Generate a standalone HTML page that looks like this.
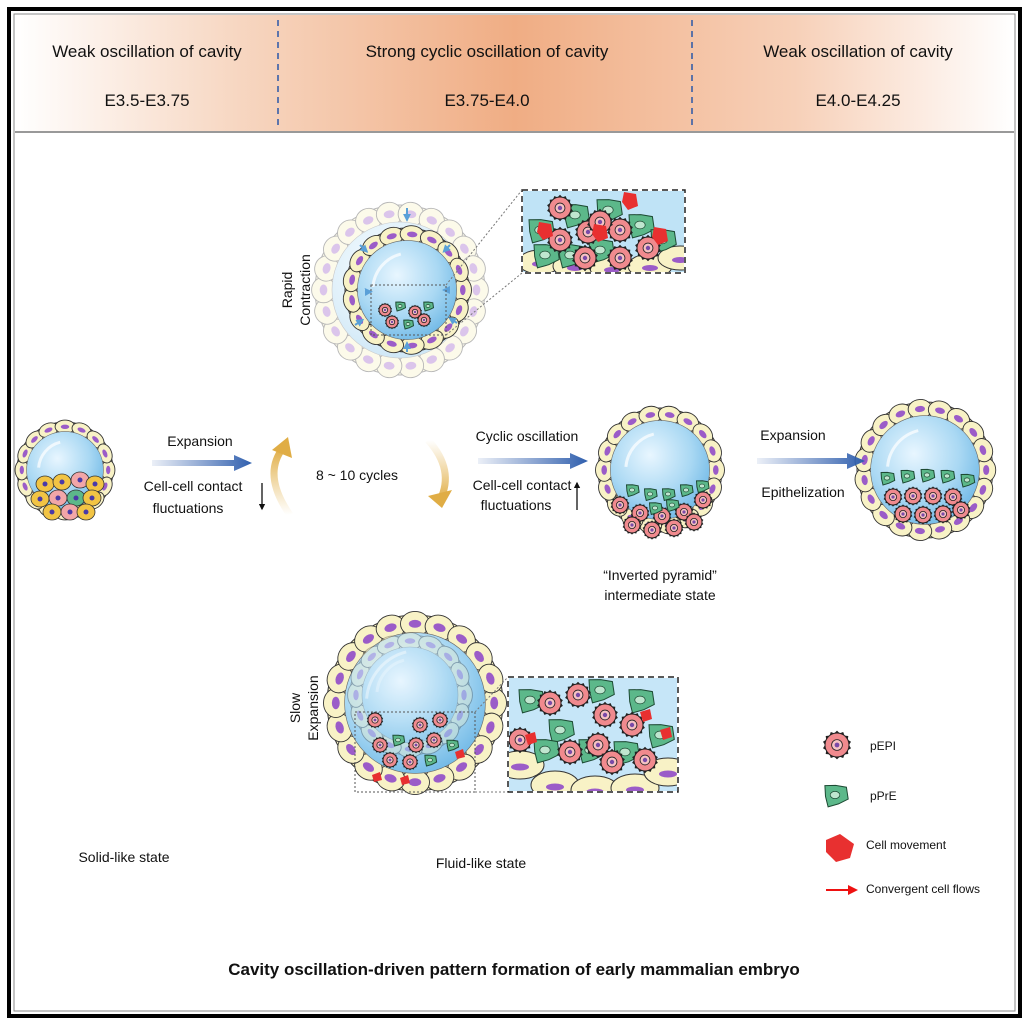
<!DOCTYPE html>
<html><head><meta charset="utf-8"><style>
html,body{margin:0;padding:0;background:#fff}
svg{display:block}
text{font-family:"Liberation Sans",Arial,sans-serif;fill:#111}
</style></head><body>
<svg id="s" width="1029" height="1024" viewBox="0 0 1029 1024" xmlns="http://www.w3.org/2000/svg">
<defs>
<linearGradient id="hdr" x1="0" x2="1" y1="0" y2="0">
<stop offset="0" stop-color="#fff"/><stop offset="0.22" stop-color="#f7d7c2"/>
<stop offset="0.5" stop-color="#f0ad84"/><stop offset="0.78" stop-color="#f7d0b8"/><stop offset="1" stop-color="#fff"/>
</linearGradient>
<radialGradient id="cav" cx="0.4" cy="0.35" r="0.7">
<stop offset="0" stop-color="#e8f6ff"/><stop offset="0.6" stop-color="#a9d8f3"/><stop offset="1" stop-color="#6fb8e6"/>
</radialGradient>
<linearGradient id="arr" x1="0" x2="1"><stop offset="0" stop-color="#3a64b0" stop-opacity="0.1"/><stop offset="1" stop-color="#2f5fae"/></linearGradient>
<linearGradient id="gold1" x1="0" y1="1" x2="0" y2="0"><stop offset="0" stop-color="#e5b85a" stop-opacity="0"/><stop offset="1" stop-color="#e0ad45"/></linearGradient>
<linearGradient id="gold2" x1="0" y1="0" x2="0" y2="1"><stop offset="0" stop-color="#e5b85a" stop-opacity="0"/><stop offset="1" stop-color="#e0ad45"/></linearGradient>
<clipPath id="c1"><rect x="523" y="191" width="161" height="81"/></clipPath>
<clipPath id="c2"><rect x="509" y="678" width="168" height="113"/></clipPath>
<marker id="ah" viewBox="0 0 10 10" refX="8" refY="5" markerWidth="5" markerHeight="5" orient="auto"><path d="M0,0L10,5L0,10z" fill="#111"/></marker>
<marker id="ahr" viewBox="0 0 10 10" refX="8" refY="5" markerWidth="5" markerHeight="5" orient="auto"><path d="M0,0L10,5L0,10z" fill="#e11"/></marker>
<marker id="ahb" viewBox="0 0 10 10" refX="8" refY="5" markerWidth="4" markerHeight="4" orient="auto"><path d="M0,0L10,5L0,10z" fill="#5aa0d8"/></marker>
</defs>
<rect x="0" y="0" width="1029" height="1024" fill="#fff"/>
<rect x="9" y="9" width="1011" height="1007" fill="none" stroke="#000" stroke-width="4"/>
<rect x="14" y="14" width="1001" height="997" fill="none" stroke="#888" stroke-width="1"/>
<rect x="15" y="15" width="999" height="117" fill="url(#hdr)"/>
<line x1="15" y1="132" x2="1014" y2="132" stroke="#999" stroke-width="2"/>
<line x1="278" y1="20" x2="278" y2="130" stroke="#2a57a8" stroke-width="1.5" stroke-dasharray="6,5"/>
<line x1="692" y1="20" x2="692" y2="130" stroke="#2a57a8" stroke-width="1.5" stroke-dasharray="6,5"/>
<g font-size="17" text-anchor="middle">
<text x="147" y="57">Weak oscillation of cavity</text><text x="147" y="106">E3.5-E3.75</text>
<text x="487" y="57">Strong cyclic oscillation of cavity</text><text x="487" y="106">E3.75-E4.0</text>
<text x="858" y="57">Weak oscillation of cavity</text><text x="858" y="106">E4.0-E4.25</text>
</g>
<g id="dyn"></g>
<path d="M152,460 L234,460 L234,455 L252,463 L234,471 L234,466 L152,466z" fill="url(#arr)"/>
<path d="M478,458 L570,458 L570,453 L588,461 L570,469 L570,464 L478,464z" fill="url(#arr)"/>
<path d="M757,458 L847,458 L847,453 L865,461 L847,469 L847,464 L757,464z" fill="url(#arr)"/>
<path d="M290,515 Q262,475 283,448" fill="none" stroke="url(#gold1)" stroke-width="7"/>
<path d="M272,450 L288,437 L292,458z" fill="#e0ad45"/>
<path d="M428,440 Q455,470 440,500" fill="none" stroke="url(#gold2)" stroke-width="7"/>
<path d="M428,496 L442,508 L452,490z" fill="#e0ad45"/>
<g font-size="14" text-anchor="middle">
<text x="200" y="446">Expansion</text>
<text x="193" y="491">Cell-cell contact</text><text x="188" y="513">fluctuations</text>
<text x="357" y="480">8 ~ 10 cycles</text>
<text x="527" y="441">Cyclic oscillation</text>
<text x="522" y="490">Cell-cell contact</text><text x="516" y="510">fluctuations</text>
<text x="793" y="440">Expansion</text>
<text x="803" y="497">Epithelization</text>
<text x="660" y="580">“Inverted pyramid”</text><text x="660" y="600">intermediate state</text>
<text x="124" y="862">Solid-like state</text>
<text x="481" y="868">Fluid-like state</text>
</g>
<line x1="262" y1="483" x2="262" y2="509" stroke="#111" stroke-width="1.3" marker-end="url(#ah)"/>
<line x1="577" y1="510" x2="577" y2="483" stroke="#111" stroke-width="1.3" marker-end="url(#ah)"/>
<text transform="translate(292,290) rotate(-90)" font-size="14" text-anchor="middle">Rapid</text>
<text transform="translate(310,290) rotate(-90)" font-size="14" text-anchor="middle">Contraction</text>
<text transform="translate(300,708) rotate(-90)" font-size="14" text-anchor="middle">Slow</text>
<text transform="translate(318,708) rotate(-90)" font-size="14" text-anchor="middle">Expansion</text>
<g id="top"></g>
<rect x="522" y="190" width="163" height="83" fill="none" stroke="#222" stroke-width="1.5" stroke-dasharray="6,4"/>
<rect x="508" y="677" width="170" height="115" fill="none" stroke="#222" stroke-width="1.5" stroke-dasharray="6,4"/>
<rect x="371" y="285" width="75" height="50" fill="none" stroke="#555" stroke-dasharray="2,2"/>
<rect x="355" y="712" width="120" height="80" fill="none" stroke="#555" stroke-dasharray="2,2"/>
<line x1="446" y1="285" x2="522" y2="190" stroke="#777" stroke-dasharray="2,2"/>
<line x1="446" y1="335" x2="522" y2="273" stroke="#777" stroke-dasharray="2,2"/>
<line x1="475" y1="712" x2="508" y2="677" stroke="#777" stroke-dasharray="2,2"/>
<line x1="475" y1="792" x2="508" y2="792" stroke="#777" stroke-dasharray="2,2"/>
<g font-size="12">
<text x="870" y="750">pEPI</text><text x="870" y="800">pPrE</text>
<text x="866" y="849">Cell movement</text><text x="866" y="893">Convergent cell flows</text>
</g>
<line x1="826" y1="890" x2="856" y2="890" stroke="#e11" stroke-width="2" marker-end="url(#ahr)"/>
<text x="514" y="975" font-size="17" font-weight="bold" text-anchor="middle">Cavity oscillation-driven pattern formation of early mammalian embryo</text>
</svg>
<script>
var g=document.getElementById('dyn'),NS='http://www.w3.org/2000/svg';
function el(t,a,p){var e=document.createElementNS(NS,t);for(var k in a)e.setAttribute(k,a[k]);(p||g).appendChild(e);return e;}
function epi(x,y,r,p){var c=el('g',{},p);var n=14,d='';for(var i=0;i<n*2;i++){var a=i*Math.PI/n,rr=i%2?r*1.2:r*1.0;d+=(i?'L':'M')+(x+rr*Math.cos(a)).toFixed(1)+','+(y+rr*Math.sin(a)).toFixed(1);}
el('path',{d:d+'z',fill:'#222'},c);el('circle',{cx:x,cy:y,r:r,fill:'#f08a8e',stroke:'#222','stroke-width':1},c);el('circle',{cx:x,cy:y,r:r*0.45,fill:'#f6c3c3',stroke:'#222','stroke-width':0.8},c);el('circle',{cx:x,cy:y,r:r*0.2,fill:'#7a4aa8'},c);}
function pre(x,y,r,p){var c=el('g',{},p);var d='';for(var i=0;i<7;i++){var a=i*2*Math.PI/7+0.3,rr=r*(i%2?0.8:1.15);d+=(i?'L':'M')+(x+rr*Math.cos(a)).toFixed(1)+','+(y+rr*Math.sin(a)).toFixed(1);}
el('path',{d:d+'z',fill:'#5cb88a',stroke:'#1d4a33','stroke-width':1},c);el('ellipse',{cx:x,cy:y,rx:r*0.4,ry:r*0.3,fill:'#bfe6cf',stroke:'#1d4a33','stroke-width':0.7},c);}
function embryo(cx,cy,r,n,op){var c=el('g',{opacity:op||1});
el('circle',{cx:cx,cy:cy,r:r,fill:'#f8f2c6',stroke:'#333','stroke-width':1},c);
for(var i=0;i<n;i++){var a=i*2*Math.PI/n;var x=cx+r*0.9*Math.cos(a),y=cy+r*0.9*Math.sin(a);
el('ellipse',{cx:x,cy:y,rx:r*Math.PI/n*1.05,ry:r*0.14,transform:'rotate('+(a*180/Math.PI+90)+' '+x+' '+y+')',fill:'#f8f2c6',stroke:'#333','stroke-width':0.9},c);
el('ellipse',{cx:x,cy:y,rx:r*Math.PI/n*0.45,ry:r*0.045,transform:'rotate('+(a*180/Math.PI+90)+' '+x+' '+y+')',fill:'#9b5cc8'},c);}
el('circle',{cx:cx,cy:cy,r:r*0.8,fill:'url(#cav)',stroke:'#666','stroke-width':0.6},c);
el('path',{d:'M'+(cx-r*0.55)+','+(cy-r*0.05)+' A'+r*0.6+','+r*0.6+' 0 0 1 '+(cx-r*0.1)+','+(cy-r*0.58),fill:'none',stroke:'#fff','stroke-width':3,'stroke-opacity':0.7},c);
return c;}
embryo(65,470,48,16);
var yc=[[45,484],[62,482],[80,480],[95,484],[40,499],[58,498],[76,498],[92,498],[52,512],[70,512],[86,512]];
yc.forEach(function(p,i){el('ellipse',{cx:p[0],cy:p[1],rx:9,ry:8,fill:[2,5,9].indexOf(i)>=0?'#f2a6a8':(i==6?'#5cb88a':'#f2c444'),stroke:'#333','stroke-width':0.8});el('circle',{cx:p[0],cy:p[1],r:2.5,fill:'#4a3aa8'});});
embryo(660,470,62,18);
[[620,505],[640,513],[662,516],[684,512],[703,500],[632,525],[652,530],[674,528],[694,522]].forEach(function(p){epi(p[0],p[1],8);});
[[632,490],[650,494],[668,494],[686,490],[702,486],[655,508],[672,505]].forEach(function(p){pre(p[0],p[1],6.5);});
embryo(925,470,68,19);
[[887,478],[907,476],[927,475],[947,476],[967,480]].forEach(function(p){pre(p[0],p[1],7);});
[[893,497],[913,496],[933,496],[953,497],[903,514],[923,515],[943,514],[961,510]].forEach(function(p){epi(p[0],p[1],8);});
embryo(400,290,85,22,0.35);
embryo(407,290,62,17);
[[385,310],[400,306],[415,312],[428,306],[392,322],[408,324],[424,320]].forEach(function(p,i){i%2?pre(p[0],p[1],5):epi(p[0],p[1],6);});
[[360,245],[450,245],[355,325],[457,323],[407,208],[407,352],[365,292],[450,290]].forEach(function(p){el('line',{x1:p[0],y1:p[1],x2:p[0]+(407-p[0])*0.15,y2:p[1]+(290-p[1])*0.15,stroke:'#5aa0d8','stroke-width':2,'marker-end':'url(#ahb)'});});
var z1=el('g',{'clip-path':'url(#c1)'});el('rect',{x:523,y:191,width:161,height:81,fill:'#bfe3f6'},z1);
[[540,262],[575,266],[612,268],[650,266],[680,258]].forEach(function(p){el('ellipse',{cx:p[0],cy:p[1],rx:22,ry:12,fill:'#f8f2c6',stroke:'#333'},z1);el('ellipse',{cx:p[0],cy:p[1]+2,rx:8,ry:3,fill:'#9b5cc8'},z1);});
[[540,230],[575,215],[608,210],[640,225],[662,240],[600,250],[570,255],[545,255]].forEach(function(p){pre(p[0],p[1],13,z1);});
[[560,240],[588,232],[620,230],[648,248],[585,258],[620,258],[560,208],[600,222]].forEach(function(p){epi(p[0],p[1],11,z1);});
[[630,200],[600,232],[660,235],[545,230]].forEach(function(p){el('path',{d:'M'+(p[0]-6)+','+(p[1]-8)+' l12,2 l2,12 l-10,4 l-6,-8z',fill:'#e83030'},z1);});
embryo(415,703,88,20);
embryo(410,695,60,16,0.35);
[[380,745],[398,740],[416,745],[434,740],[452,745],[390,760],[410,762],[430,760]].forEach(function(p,i){i%3==1?pre(p[0],p[1],6):epi(p[0],p[1],7);});
[[375,720],[440,720],[420,725]].forEach(function(p){epi(p[0],p[1],7);});
[[372,775],[400,778],[455,752]].forEach(function(p){el('path',{d:'M'+p[0]+','+p[1]+' l8,-3 l2,8 l-8,2z',fill:'#e83030'});});
var z2=el('g',{'clip-path':'url(#c2)'});el('rect',{x:509,y:678,width:168,height:113,fill:'#c6e6f8'},z2);
[[520,765],[555,785],[595,790],[635,788],[668,772]].forEach(function(p){el('ellipse',{cx:p[0],cy:p[1],rx:24,ry:14,fill:'#f8f2c6',stroke:'#333'},z2);el('ellipse',{cx:p[0],cy:p[1]+2,rx:9,ry:3.5,fill:'#9b5cc8'},z2);});
[[530,700],[560,730],[600,690],[640,700],[660,735],[545,750],[625,752],[590,750]].forEach(function(p){pre(p[0],p[1],13,z2);});
[[550,703],[578,695],[605,715],[632,725],[570,752],[598,745],[520,740],[645,760],[612,762]].forEach(function(p){epi(p[0],p[1],11,z2);});
[[525,735],[640,712],[660,730]].forEach(function(p){el('path',{d:'M'+p[0]+','+p[1]+' l10,-3 l2,10 l-9,3z',fill:'#e83030'},z2);});
epi(837,745,12);pre(835,795,12);
el('path',{d:'M826,840 l14,-6 l14,10 l-4,14 l-14,4 l-10,-10z',fill:'#e83030'});
</script>
</body></html>
